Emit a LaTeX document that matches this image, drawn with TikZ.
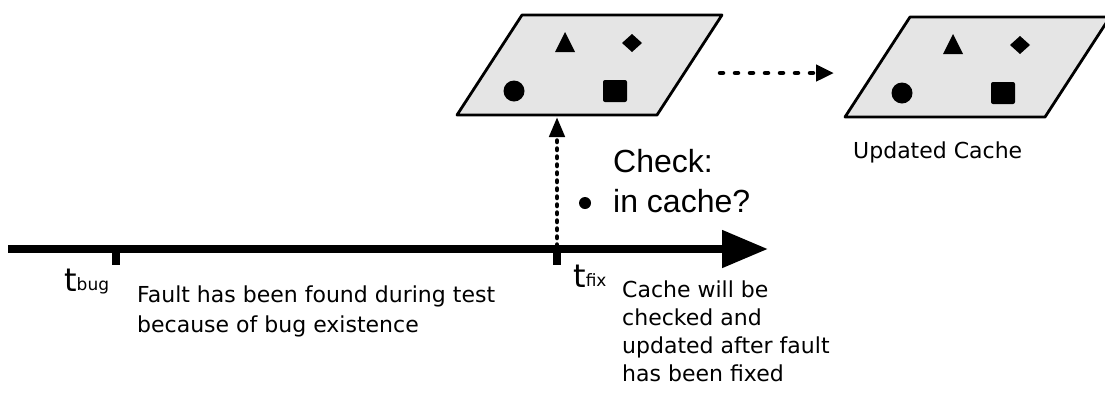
\documentclass[tikz,border=0pt]{standalone}
\usepackage{fontspec}
\setmainfont{Liberation Sans}
\newfontfamily\labelfont{DejaVu Sans}
\usetikzlibrary{arrows.meta}
\begin{document}
\begin{tikzpicture}[x=1pt,y=-1pt,
  cachebox/.style={draw=black, line width=2.8pt, fill=gray!20, line join=round},
  token/.style={fill=black, draw=none},
  axisline/.style={line width=8pt, -{Triangle[length=46pt,width=36pt]}},
  tickmark/.style={line width=8pt},
  vdots/.style={line width=4.5pt, line cap=round, dash pattern=on 1.5pt off 6.5pt, -{Triangle[length=20pt,width=15pt]}},
  hdots/.style={line width=4.5pt, line cap=round, dash pattern=on 3pt off 12pt, -{Triangle[length=18pt,width=16pt]}},
  lbl/.style={font=\labelfont\fontsize{22}{27}\selectfont, inner sep=0pt, align=left},
  tlbl/.style={font=\labelfont\fontsize{32}{34}\selectfont, inner sep=0pt},
  chk/.style={font=\fontsize{32}{40}\selectfont, inner sep=0pt, align=left}
]
\useasboundingbox (0,0) rectangle (1105,392);

% cache 1
\draw[cachebox] (457,115) coordinate (c1bl) -- (522,15) -- (722,15) -- (657,115) -- cycle;
\fill[token] (555,52) -- (565,32) -- (575,52) -- cycle;
\fill[token] (632,34) -- (642,43) -- (632,52) -- (622,43) -- cycle;
\fill[token] (514,91) circle (10.5);
\fill[token, rounded corners=2pt] (603,80) rectangle (627,102);

% cache 2 (updated)
\begin{scope}[shift={(388,2)}]
\draw[cachebox] (457,115) -- (522,15) -- (722,15) -- (657,115) -- cycle;
\fill[token] (555,52) -- (565,32) -- (575,52) -- cycle;
\fill[token] (632,34) -- (642,43) -- (632,52) -- (622,43) -- cycle;
\fill[token] (514,91) circle (10.5);
\fill[token, rounded corners=2pt] (603,80) rectangle (627,102);
\end{scope}
\node[lbl, anchor=base west] (updlbl) at (853,158) {Updated Cache};

% time axis
\coordinate (axstart) at (8,249);
\coordinate (axend) at (768,249);
\draw[axisline] (axstart) -- (axend);
\coordinate (tbug) at (116,246);
\coordinate (tfix) at (557,246);
\draw[tickmark] (tbug) -- ++(0,19);
\draw[tickmark] (tfix) -- ++(0,19);

% labels at the axis
\node[tlbl, anchor=base west] (tbuglbl) at (64,291) {t\raisebox{1pt}{\fontsize{17}{18}\selectfont bug}};
\node[tlbl, anchor=base west] (tfixlbl) at (573,287) {t\raisebox{1pt}{\fontsize{17}{18}\selectfont fix}};
\node[lbl, anchor=base west, font=\labelfont\fontsize{22}{30}\selectfont] (faultlbl) at (137,332) {Fault has been found during test\\because of bug existence};
\node[lbl, anchor=base west, font=\labelfont\fontsize{22}{28}\selectfont] (cachelbl) at (622,381) {Cache will be\\checked and\\updated after fault\\has been fixed};

% check
\coordinate (c1bot) at (557,117);
\draw[vdots] (tfix) -- (c1bot);
\fill[token] (585,203) circle (6);
\node[chk, anchor=base west] (chklbl) at (613,212) {Check:\\in cache?};

% update arrow
\coordinate (upd1) at (720,73);
\coordinate (upd2) at (834,73);
\draw[hdots] (upd1) -- (upd2);
\end{tikzpicture}
\end{document}
